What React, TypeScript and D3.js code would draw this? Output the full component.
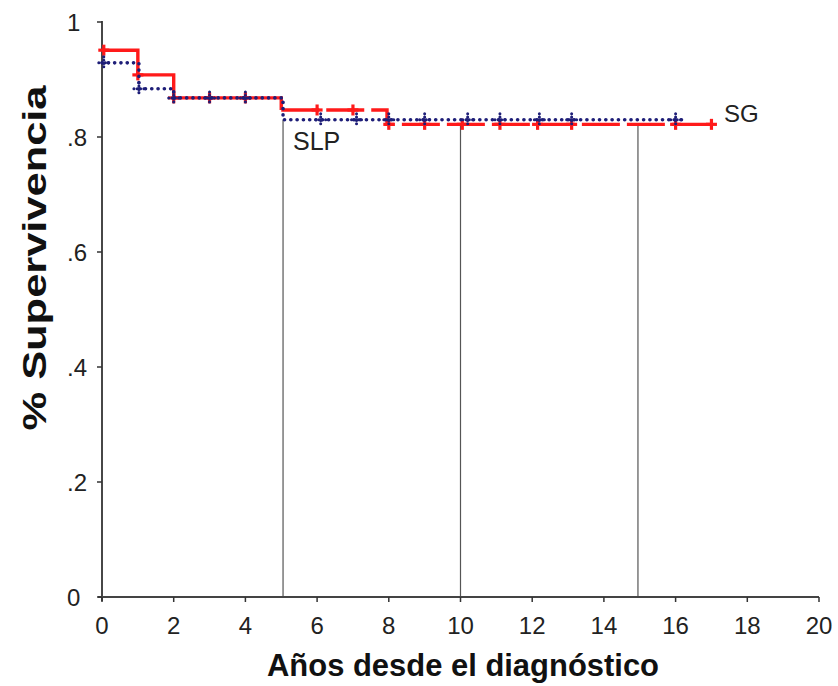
import React from "react";
import * as d3 from "d3";

const xTicks = [0, 2, 4, 6, 8, 10, 12, 14, 16, 18, 20];
const yTicks = [0, 0.2, 0.4, 0.6, 0.8, 1];
const yTickLabels = ["0", ".2", ".4", ".6", ".8", "1"];

// SG (global survival) – red with + censor marks
const sgTimes = [0, 1, 2, 5, 7.95];
const sgValues = [0.951, 0.908, 0.868, 0.847, 0.822];
const sgEnd = 17.0;
const sgCensor = [0.05, 1, 2, 3, 4, 6, 7, 8, 9, 10.05, 11.1, 12.15, 13.1, 16, 17];

// SLP (progression-free survival) – navy dotted
const slpTimes = [0, 1.03, 2, 5.05];
const slpValues = [0.929, 0.884, 0.868, 0.83];
const slpEnd = 16.3;
const slpCensor = [0.05, 1.03, 2, 3, 4, 6.1, 7.1, 8, 9, 10.2, 11.1, 12.2, 13.1, 16];

const refTimes = [5.05, 10, 14.95];

const W = 838;
const H = 686;
const x = d3.scaleLinear().domain([0, 20]).range([102, 819]);
const y = d3.scaleLinear().domain([0, 1]).range([597, 22]);

function stepAt(times: number[], values: number[], t: number) {
  let v = values[0];
  for (let i = 0; i < times.length; i++) if (t >= times[i]) v = values[i];
  return v;
}

function stepPoints(times: number[], values: number[], end: number): [number, number][] {
  const pts: [number, number][] = times.map((t, i) => [t, values[i]]);
  pts.push([end, values[values.length - 1]]);
  return pts;
}

const line = d3
  .line<[number, number]>()
  .x((d) => x(d[0]))
  .y((d) => y(d[1]))
  .curve(d3.curveStepAfter);

const RED = "#ff1a1a";
const NAVY = "#1e1e78";
const FONT = "'Liberation Sans', Arial, sans-serif";

export default function App() {
  const sgPts = stepPoints(sgTimes, sgValues, sgEnd);
  const sgFirst = sgPts.filter((p) => p[0] <= 5);
  const sgRest = sgPts.filter((p) => p[0] >= 5);
  const slpPts = stepPoints(slpTimes, slpValues, slpEnd);

  return (
    <div style={{ position: "absolute", left: 0, top: 0 }}>
      <svg width={W} height={H} style={{ display: "block", background: "#fff" }} fontFamily={FONT}>
        {/* reference verticals */}
        {refTimes.map((t) => (
          <line
            key={"r" + t}
            x1={x(t)}
            x2={x(t)}
            y1={y(Math.min(stepAt(sgTimes, sgValues, t), stepAt(slpTimes, slpValues, t)))}
            y2={y(0)}
            stroke="#555"
            strokeWidth={1.2}
          />
        ))}
        {/* axes */}
        <line x1={x(0)} x2={x(0)} y1={y(1) - 1} y2={y(0) + 4} stroke="#333" strokeWidth={1.8} />
        <line x1={x(0) - 4} x2={x(20)} y1={y(0)} y2={y(0)} stroke="#444" strokeWidth={2} />
        {xTicks.map((t) => (
          <g key={"x" + t}>
            <line x1={x(t)} x2={x(t)} y1={y(0)} y2={y(0) + 5} stroke="#333" strokeWidth={1.5} />
            <text x={x(t)} y={634} textAnchor="middle" fontSize={24} fill="#222">
              {t}
            </text>
          </g>
        ))}
        {yTicks.map((t, i) => (
          <g key={"y" + t}>
            <line x1={x(0) - 5} x2={x(0)} y1={y(t)} y2={y(t)} stroke="#333" strokeWidth={1.5} />
            <text x={67} y={y(t) + 8.5} textAnchor="start" fontSize={24} fill="#222">
              {yTickLabels[i]}
            </text>
          </g>
        ))}
        {/* SG curve */}
        <path d={line(sgFirst) || ""} fill="none" stroke={RED} strokeWidth={3.4} />
        <path d={line(sgRest) || ""} fill="none" stroke={RED} strokeWidth={3.4} strokeDasharray="38,7" />
        {sgCensor.map((t, i) => {
          const cx = x(t);
          const cy = y(stepAt(sgTimes, sgValues, t));
          return (
            <g key={"sc" + i} stroke={RED} strokeWidth={3.2}>
              <line x1={cx - 5.5} x2={cx + 5.5} y1={cy} y2={cy} />
              <line x1={cx} x2={cx} y1={cy - 5.5} y2={cy + 5.5} />
            </g>
          );
        })}
        {/* SLP curve */}
        <path
          d={line(slpPts) || ""}
          fill="none"
          stroke={NAVY}
          strokeWidth={3.6}
          strokeDasharray="0.1,6.2"
          strokeLinecap="round"
        />
        {slpCensor.map((t, i) => {
          const cx = x(t);
          const cy = y(stepAt(slpTimes, slpValues, t));
          return (
            <g key={"pc" + i} stroke={NAVY} strokeWidth={3} strokeLinecap="round" strokeDasharray="0.1,3.2">
              <line x1={cx - 5} x2={cx + 5} y1={cy} y2={cy} />
              <line x1={cx} x2={cx} y1={cy - 6} y2={cy + 6} />
            </g>
          );
        })}
        {/* curve labels */}
        <text x={293} y={150} fontSize={25} fill="#222">
          SLP
        </text>
        <text x={724} y={122} fontSize={24} fill="#222">
          SG
        </text>
        {/* axis titles */}
        <text
          x={463}
          y={676}
          textAnchor="middle"
          fontSize={32}
          fontWeight="bold"
          fill="#111"
          textLength={392}
          lengthAdjust="spacingAndGlyphs"
        >
          Años desde el diagnóstico
        </text>
        <text
          transform={`translate(46, 258) rotate(-90)`}
          textAnchor="middle"
          fontSize={33}
          fontWeight="bold"
          fill="#111"
          textLength={345}
          lengthAdjust="spacingAndGlyphs"
        >
          % Supervivencia
        </text>
      </svg>
    </div>
  );
}
